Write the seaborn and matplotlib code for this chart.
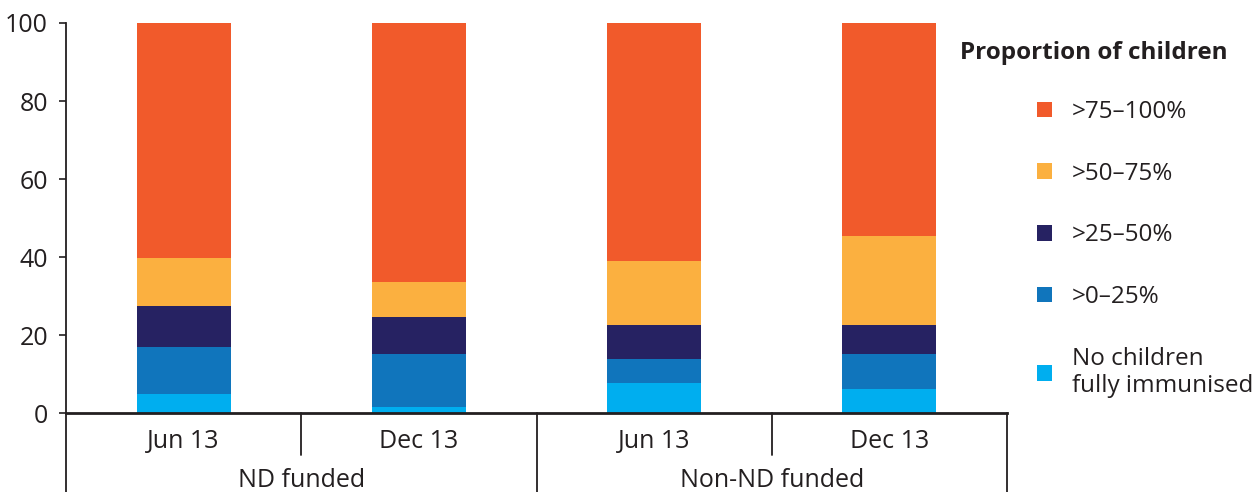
import numpy as np
import pandas as pd
import matplotlib
matplotlib.use("Agg")
import matplotlib.pyplot as plt
import seaborn as sns
from matplotlib.patches import Patch
from matplotlib.transforms import blended_transform_factory

# ---- data ----
bar_ids = ["ND Jun 13", "ND Dec 13", "Non-ND Jun 13", "Non-ND Dec 13"]
periods = ["Jun 13", "Dec 13", "Jun 13", "Dec 13"]
groups = ["ND funded", "Non-ND funded"]
categories = ["No children\nfully immunised", ">0–25%", ">25–50%", ">50–75%", ">75–100%"]
no_children = [5.0, 1.6, 7.7, 6.2]
p0_25 = [12.1, 13.5, 6.2, 8.9]
p25_50 = [10.4, 9.6, 8.7, 7.5]
p50_75 = [12.3, 8.9, 16.5, 22.7]
p75_100 = [60.2, 66.4, 60.9, 54.7]
y_ticks = [0, 20, 40, 60, 80, 100]
legend_title = "Proportion of children"

colors = ["#00AEEF", "#1075BC", "#262262", "#FBB040", "#F15A2B"]
TXT = "#231F20"

sns.set_style("white")
plt.rcParams["font.family"] = ["Open Sans", "DejaVu Sans"]

layers = [no_children, p0_25, p25_50, p50_75, p75_100]
df = pd.DataFrame({"bar": bar_ids})
cum = np.zeros(len(bar_ids))
for name, vals in zip(categories, layers):
    cum = cum + np.array(vals)
    df[name] = cum

fig = plt.figure(figsize=(12.59, 4.92), dpi=100)
ax = fig.add_axes([66 / 1259, 1 - 413.3 / 492, (1007 - 66) / 1259, (413.3 - 23) / 492])

# draw cumulative layers from top down
for name, col in reversed(list(zip(categories, colors))):
    sns.barplot(data=df, x="bar", y=name, color=col, saturation=1, width=0.4,
                linewidth=0, ax=ax, order=bar_ids)

ax.set_xlim(-0.5, 3.5)
ax.set_ylim(0, 100)
ax.set_yticks(y_ticks)
ax.set_xticks(range(len(bar_ids)))
ax.set_xticklabels(periods)
ax.set_xlabel("")
ax.set_ylabel("")
for s in ["top", "right"]:
    ax.spines[s].set_visible(False)
ax.spines["left"].set_color(TXT)
ax.spines["left"].set_linewidth(1.3)
ax.spines["bottom"].set_color(TXT)
ax.spines["bottom"].set_linewidth(2)
ax.tick_params(axis="y", direction="out", length=5, width=1.2, color=TXT,
               labelsize=18, labelcolor=TXT, pad=8, left=True)
ax.tick_params(axis="x", length=0, labelsize=18, labelcolor=TXT, pad=11)

tr = blended_transform_factory(ax.transData, ax.transAxes)
# left axis extension and dividers
ax.plot([-0.5, -0.5], [0, -0.21], transform=tr, color=TXT, lw=1.3, clip_on=False)
for xd in [0.5, 2.5]:
    ax.plot([xd, xd], [0, -0.107], transform=tr, color=TXT, lw=1.3, clip_on=False)
for xd in [1.5, 3.5]:
    ax.plot([xd, xd], [0, -0.21], transform=tr, color=TXT, lw=1.3, clip_on=False)

# group labels
for i, g in enumerate(groups):
    ax.text(2 * i + 0.5, -0.172, g, transform=tr, ha="center", va="center",
            fontsize=18, color=TXT)

# legend
handles = [Patch(facecolor=c, edgecolor="none", label=l)
           for c, l in zip(reversed(colors), reversed(categories))]
fig.legend(handles=handles, loc="upper left", bbox_to_anchor=(1037 / 1259, 1 - 100 / 492),
           frameon=False, fontsize=17.5, handlelength=0.62, handleheight=0.62,
           handletextpad=0.8, labelspacing=1.55, borderpad=0, borderaxespad=0,
           labelcolor=TXT)
fig.text(960 / 1259, 1 - 53 / 492, legend_title, fontsize=17.5, fontweight="bold",
         color=TXT, ha="left", va="center")

fig.savefig("out.png", dpi=100)
